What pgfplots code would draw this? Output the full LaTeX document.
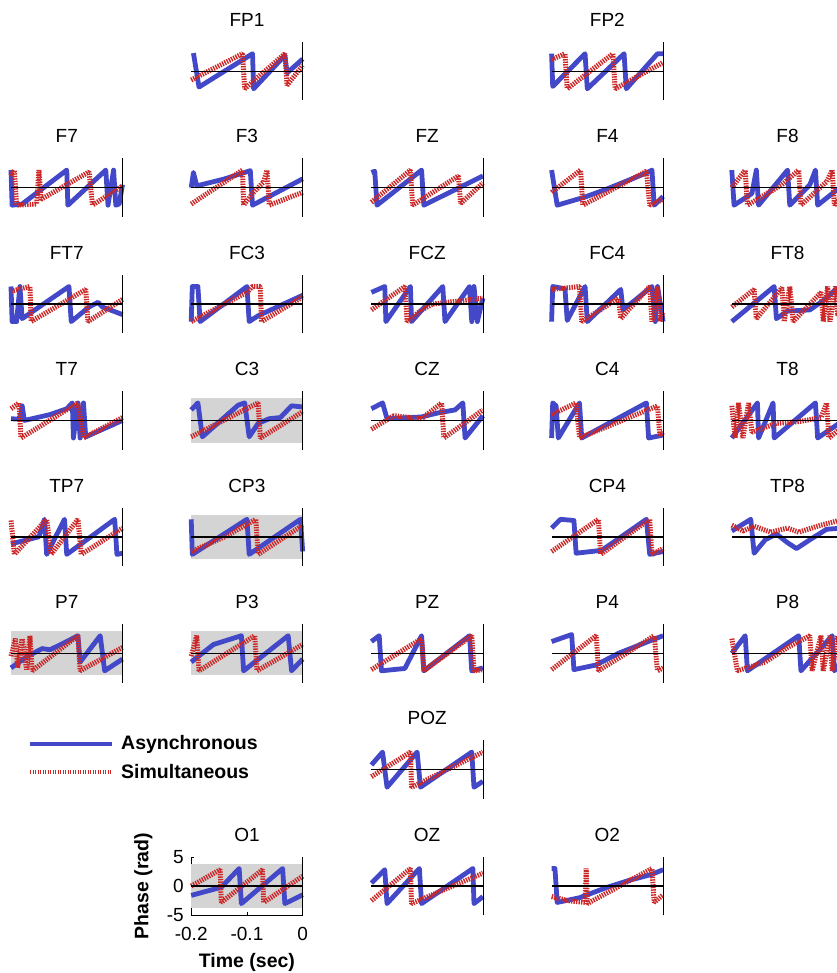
\documentclass[border=0pt]{standalone}
\usepackage{fontspec}
\setmainfont{Liberation Sans}
\usepackage{pgfplots}
\pgfplotsset{compat=1.18}
\definecolor{asynblue}{RGB}{66,72,200}
\definecolor{simured}{RGB}{204,40,40}
\definecolor{shadegray}{RGB}{212,212,212}
\tikzset{
  asynline/.style={color=asynblue, line width=4.8pt, line join=round, mark=none},
  simuline/.style={color=simured, line width=5pt, line join=bevel, dash pattern=on 1.4pt off 1.1pt, mark=none},
  zeroline/.style={color=black, line width=1.4pt, mark=none},
  vline/.style={color=black, line width=0.8pt, mark=none},
}
\pgfplotsset{
  every axis title shift=0pt,
  panel/.style={
    anchor=north west, scale only axis, width=111.5pt, height=58.5pt,
    xmin=-0.2, xmax=0, ymin=-5, ymax=5, clip=false,
    title style={font=\fontsize{19}{22}\selectfont, at={(0.5,1)}, anchor=center, yshift=22pt},
  },
}
\newcommand{\grayband}{\addplot[fill=shadegray, draw=none] coordinates {(-0.2,-3.8) (0,-3.8) (0,3.8) (-0.2,3.8)};}
\newcommand{\panel}[6]{%
  \begin{axis}[panel, hide axis, at={(#1pt,-#2pt)}, title={#3}]
    #4
    \addplot[asynline] coordinates {#5};
    \addplot[simuline] coordinates {#6};
    \addplot[zeroline] coordinates {(-0.2,0) (0,0)};
    \addplot[vline] coordinates {(0,-5) (0,5)};
  \end{axis}}
\begin{document}
\begin{tikzpicture}
\useasboundingbox (0,0) rectangle (836pt,-973pt);
% ---------- row 0
\panel{191.2}{42}{FP1}{}{(-0.196,3.1) (-0.186,-2.7) (-0.09,3.0) (-0.088,-3.0) (-0.032,2.7) (-0.028,-0.3) (0,2.1)}{(-0.2,-1.5) (-0.108,3.0) (-0.104,-3.0) (-0.032,3.0) (-0.028,-2.4) (0,1.0)}
\panel{551.6}{42}{FP2}{}{(-0.2,3.0) (-0.198,-2.6) (-0.14,3.0) (-0.136,-3.0) (-0.07,3.0) (-0.066,-3.0) (-0.01,3.0) (0,3.0)}{(-0.2,2.0) (-0.176,3.0) (-0.172,-3.0) (-0.09,3.0) (-0.086,-3.0) (0,1.5)}
% ---------- row 1
\panel{11}{158.4}{F7}{}{(-0.2,3.0) (-0.198,-3.0) (-0.18,-2.8) (-0.1,3.0) (-0.098,-3.0) (-0.03,3.0) (-0.026,-3.0) (-0.016,3.0) (-0.012,-3.0) (-0.006,-2.8) (0,0.5)}{(-0.2,2.0) (-0.194,3.0) (-0.19,-3.0) (-0.154,-2.8) (-0.15,3.0) (-0.146,-2.0) (-0.06,2.7) (-0.054,-3.0) (0,0.3)}
\panel{191.2}{158.4}{F3}{}{(-0.2,0) (-0.196,2.6) (-0.19,0.3) (-0.14,1.5) (-0.094,2.9) (-0.09,-3.0) (-0.06,-1.5) (0,1.5)}{(-0.2,-2.8) (-0.108,3.0) (-0.106,-3.0) (-0.09,-1.0) (-0.07,1.0) (-0.064,3.0) (-0.06,-3.0) (0,-0.8)}
\panel{371.4}{158.4}{FZ}{}{(-0.2,2.6) (-0.194,2.8) (-0.19,-3.0) (-0.11,3.0) (-0.106,-3.0) (0,2.0)}{(-0.2,-2.5) (-0.13,3.0) (-0.126,-3.0) (-0.044,2.0) (-0.04,-2.7) (0,0.8)}
\panel{551.6}{158.4}{F4}{}{(-0.2,3.0) (-0.19,-3.0) (-0.14,-1.6) (-0.1,-0.2) (-0.03,2.5) (-0.02,3.0) (-0.016,-3.0) (0,-1.5)}{(-0.2,-0.8) (-0.148,3.0) (-0.144,-3.0) (-0.03,2.8) (-0.024,-3.0) (0,-2.0)}
\panel{731.8}{158.4}{F8}{}{(-0.2,3.0) (-0.196,-3.0) (-0.164,-1.0) (-0.156,3.0) (-0.152,-3.0) (-0.1,3.0) (-0.096,-3.0) (-0.06,0.5) (-0.05,3.0) (-0.046,-3.0) (0,0.5)}{(-0.2,0) (-0.176,3.0) (-0.172,-3.0) (-0.11,0.5) (-0.08,3.0) (-0.076,-3.0) (-0.03,1.0) (-0.02,3.0) (-0.016,-3.0) (0,-1.0)}
% ---------- row 2
\panel{11}{274.8}{FT7}{}{(-0.2,3.0) (-0.198,-3.0) (-0.19,-3.0) (-0.184,3.0) (-0.18,-2.5) (-0.096,3.0) (-0.092,-3.0) (-0.06,-0.5) (-0.044,0.3) (-0.036,-0.5) (0,-1.8)}{(-0.2,2.2) (-0.166,3.0) (-0.164,-3.0) (-0.066,2.5) (-0.062,-3.0) (0,0.8)}
\panel{191.2}{274.8}{FC3}{}{(-0.2,-3.0) (-0.198,3.0) (-0.188,3.0) (-0.184,-3.0) (-0.1,3.0) (-0.096,-3.0) (-0.08,-2.0) (0,1.5)}{(-0.2,-3.0) (-0.1,2.0) (-0.09,3.0) (-0.076,3.0) (-0.074,-3.0) (0,1.2)}
\panel{371.4}{274.8}{FCZ}{}{(-0.2,2.0) (-0.176,3.0) (-0.174,-3.0) (-0.13,3.0) (-0.128,-3.0) (-0.072,3.0) (-0.068,-3.0) (-0.024,3.0) (-0.02,-3.0) (-0.016,3.0) (-0.01,-3.0) (0,1.0)}{(-0.2,-1.0) (-0.14,3.0) (-0.136,-3.0) (-0.11,-1.0) (-0.09,0.0) (0,1.0)}
\panel{551.6}{274.8}{FC4}{}{(-0.2,-3.0) (-0.198,3.0) (-0.176,2.6) (-0.172,-2.8) (-0.14,3.0) (-0.136,-3.0) (-0.076,2.5) (-0.072,-1.0) (-0.02,3.0) (-0.014,-3.0) (-0.01,3.0) (0,-3.0)}{(-0.2,2.5) (-0.15,3.0) (-0.146,-3.0) (-0.08,1.0) (-0.076,-2.5) (-0.024,3.0) (-0.02,-3.0) (-0.01,3.0) (-0.006,-3.0) (0,-1.5)}
\panel{731.8}{274.8}{FT8}{}{(-0.2,-3.0) (-0.124,3.0) (-0.12,-2.5) (-0.1,-1.2) (-0.06,-1.0) (-0.03,1.0) (-0.014,2.5) (0,3.0)}{(-0.2,-0.5) (-0.16,2.5) (-0.156,-2.5) (-0.11,2.8) (-0.106,-3.0) (-0.096,3.0) (-0.09,-3.0) (-0.04,2.0) (-0.036,-3.0) (-0.028,3.0) (-0.024,-3.0) (-0.014,3.0) (-0.01,-2.0) (0,0.0)}
% ---------- row 3
\panel{11}{391.2}{T7}{}{(-0.2,0.3) (-0.184,0.2) (-0.18,2.5) (-0.176,0.0) (-0.13,1.0) (-0.1,2.0) (-0.09,3.0) (-0.088,-3.0) (-0.08,3.0) (-0.076,-3.0) (-0.07,3.0) (-0.066,-2.8) (0,0.0)}{(-0.2,2.0) (-0.186,3.0) (-0.182,-3.0) (-0.08,3.0) (-0.07,-3.0) (0,0.5)}
\panel{191.2}{391.2}{C3}{\grayband}{(-0.2,1.8) (-0.188,3.0) (-0.18,-2.8) (-0.116,2.6) (-0.104,3.0) (-0.096,-2.8) (-0.08,-0.5) (-0.06,0.3) (-0.04,0.5) (-0.02,2.5) (0,2.3)}{(-0.2,-2.8) (-0.08,3.0) (-0.076,-3.0) (0,1.5)}
\panel{371.4}{391.2}{CZ}{}{(-0.2,2.0) (-0.18,3.0) (-0.172,0.3) (-0.11,0.6) (-0.08,1.3) (-0.05,1.8) (-0.036,3.0) (-0.032,-3.0) (0,0.8)}{(-0.2,-1.5) (-0.16,0.8) (-0.11,0.3) (-0.074,3.0) (-0.07,-3.0) (0,1.8)}
\panel{551.6}{391.2}{C4}{}{(-0.2,-3.0) (-0.198,3.0) (-0.192,2.5) (-0.188,-3.0) (-0.15,3.0) (-0.146,-3.0) (-0.03,3.0) (-0.026,-3.0) (0,-2.5)}{(-0.2,1.0) (-0.156,3.0) (-0.15,-3.0) (-0.01,2.5) (-0.006,-2.5) (0,-2.0)}
\panel{731.8}{391.2}{T8}{}{(-0.2,-3.0) (-0.154,3.0) (-0.152,-3.0) (-0.126,3.0) (-0.124,-3.0) (-0.05,3.0) (-0.046,-3.0) (0,0.0)}{(-0.2,2.5) (-0.194,-3.0) (-0.188,3.0) (-0.18,-3.0) (-0.17,3.0) (-0.164,-2.0) (-0.12,-0.5) (-0.08,-0.2) (-0.04,0.5) (-0.03,3.0) (-0.026,-3.0) (0,-1.0)}
% ---------- row 4
\panel{11}{507.6}{TP7}{}{(-0.2,-1.2) (-0.15,0.0) (-0.14,3.0) (-0.136,-3.0) (-0.104,3.0) (-0.1,-3.0) (-0.014,3.0) (-0.01,-3.0) (0,-2.8)}{(-0.2,2.8) (-0.194,-3.0) (-0.136,3.0) (-0.128,-3.0) (-0.08,3.0) (-0.074,-3.0) (0,1.5)}
\panel{191.2}{507.6}{CP3}{\grayband}{(-0.2,3.0) (-0.198,-3.0) (-0.1,3.0) (-0.096,-3.0) (-0.004,3.0) (0,-2.5)}{(-0.2,-2.5) (-0.14,0.0) (-0.084,3.0) (-0.08,-3.0) (0,2.0)}
\panel{551.6}{507.6}{CP4}{}{(-0.2,1.5) (-0.184,3.0) (-0.16,2.8) (-0.156,-2.8) (-0.11,-2.3) (-0.03,3.0) (-0.024,-3.0) (0,-2.5)}{(-0.2,-2.5) (-0.116,3.0) (-0.112,-3.0) (-0.024,3.0) (-0.02,-3.0) (0,-2.0)}
\panel{731.8}{507.6}{TP8}{}{(-0.2,1.0) (-0.166,3.0) (-0.16,-2.8) (-0.14,-0.5) (-0.12,0.5) (-0.1,-1.0) (-0.084,-2.0) (-0.06,-0.5) (-0.03,1.3) (0,1.5)}{(-0.2,2.0) (-0.18,1.0) (-0.16,1.8) (-0.13,0.8) (-0.1,1.5) (-0.08,0.8) (-0.04,2.0) (0,3.0)}
% ---------- row 5
\panel{11}{624}{P7}{\grayband}{(-0.2,-2.5) (-0.17,-0.5) (-0.144,0.8) (-0.13,0.6) (-0.1,2.0) (-0.08,3.0) (-0.076,-1.5) (-0.04,3.0) (-0.032,-3.0) (0,-1.0)}{(-0.2,-0.5) (-0.192,2.5) (-0.188,-2.5) (-0.18,2.5) (-0.172,-2.8) (-0.166,3.0) (-0.162,-3.0) (-0.08,3.0) (-0.076,-3.0) (0,1.0)}
\panel{191.2}{624}{P3}{\grayband}{(-0.2,-1.5) (-0.16,1.5) (-0.11,3.0) (-0.106,-3.0) (-0.026,3.0) (-0.02,-3.0) (0,-1.0)}{(-0.2,-0.5) (-0.19,3.0) (-0.186,-3.0) (-0.086,3.0) (-0.082,-3.0) (0,1.5)}
\panel{371.4}{624}{PZ}{}{(-0.2,2.0) (-0.186,3.0) (-0.182,-3.0) (-0.14,-2.6) (-0.11,3.0) (-0.106,-3.0) (-0.024,3.0) (-0.02,-3.0) (0,-2.5)}{(-0.2,-2.8) (-0.11,2.5) (-0.106,-3.0) (-0.02,3.0) (-0.016,-3.0) (0,-2.8)}
\panel{551.6}{624}{P4}{}{(-0.2,2.0) (-0.164,3.2) (-0.16,-2.8) (-0.12,-2.0) (-0.1,-1.0) (-0.08,0.0) (-0.04,1.5) (0,3.0)}{(-0.2,-2.8) (-0.12,3.0) (-0.116,-3.0) (-0.016,3.0) (-0.01,-3.0) (0,-2.5)}
\panel{731.8}{624}{P8}{}{(-0.2,0.0) (-0.176,3.0) (-0.172,-3.0) (-0.08,3.0) (-0.076,-3.0) (-0.02,3.0) (-0.016,-3.0) (0,-1.0)}{(-0.2,2.5) (-0.19,-3.0) (-0.14,-1.5) (-0.1,1.0) (-0.06,3.0) (-0.056,-3.0) (-0.04,3.0) (-0.036,-3.0) (-0.024,3.0) (-0.02,-3.0) (-0.01,3.0) (0,-2.0)}
% ---------- row 6
\panel{371.4}{740.4}{POZ}{}{(-0.2,0.8) (-0.18,3.0) (-0.172,-3.0) (-0.118,3.0) (-0.112,-3.0) (-0.02,3.0) (-0.016,-3.0) (0,-2.0)}{(-0.2,-1.2) (-0.13,3.0) (-0.128,-3.0) (0,3.0)}
% ---------- row 7
\begin{axis}[panel, at={(191.2pt,-856.8pt)}, title={O1},
  axis x line*=bottom, axis y line*=left, axis line style={-, line width=0.6pt, black},
  xtick={-0.2,-0.1,0}, ytick={-5,0,5},
  tick align=inside, major tick length=3pt, tick style={black, line width=0.5pt},
  /pgf/number format/assume math mode=true,
  xticklabel={\fontsize{19}{22}\selectfont\pgfmathprintnumber{\tick}},
  yticklabel={\fontsize{19}{22}\selectfont\pgfmathprintnumber{\tick}},
  xticklabel style={yshift=-8pt},
  yticklabel style={xshift=-4pt},
  xlabel={Time (sec)}, ylabel={Phase (rad)},
  label style={font=\bfseries\fontsize{19.5}{22}\selectfont},
  xlabel style={at={(axis description cs:0.5,-0.8)}, anchor=center},
  ylabel style={at={(axis description cs:-0.43,0.5)}, anchor=center, rotate=0}]
  \grayband
  \addplot[asynline] coordinates {(-0.2,-1.6) (-0.146,-0.2) (-0.114,3.0) (-0.11,-3.0) (-0.036,3.0) (-0.032,-3.0) (0,-1.5)};
  \addplot[simuline] coordinates {(-0.2,0.0) (-0.148,2.8) (-0.146,-2.8) (-0.072,2.8) (-0.07,-2.8) (0,1.7)};
  \addplot[zeroline] coordinates {(-0.2,0) (0,0)};
  \addplot[vline] coordinates {(0,-5) (0,5)};
\end{axis}
\panel{371.4}{856.8}{OZ}{}{(-0.2,0.5) (-0.176,2.8) (-0.172,-3.0) (-0.114,3.0) (-0.11,-3.0) (-0.018,3.0) (-0.016,-3.0) (0,-1.8)}{(-0.2,-2.5) (-0.13,3.0) (-0.128,-3.0) (0,2.2)}
\panel{551.6}{856.8}{O2}{}{(-0.2,3.0) (-0.194,3.0) (-0.19,-2.8) (-0.15,-2.0) (-0.1,-0.2) (-0.06,1.0) (-0.02,2.0) (0,2.8)}{(-0.2,-1.8) (-0.17,-2.5) (-0.14,-2.8) (-0.138,3.0) (-0.136,-3.0) (-0.02,3.0) (-0.016,-2.8) (0,-1.5)}
% ---------- legend
\draw[asynline] (30pt,-744pt) -- (112pt,-744pt);
\node[anchor=west, inner sep=0pt, font=\bfseries\fontsize{19.5}{22}\selectfont] at (121pt,-744pt) {Asynchronous};
\draw[simuline, line width=4pt] (30pt,-772pt) -- (112pt,-772pt);
\node[anchor=west, inner sep=0pt, font=\bfseries\fontsize{19.5}{22}\selectfont] at (121pt,-772pt) {Simultaneous};
\end{tikzpicture}
\end{document}
